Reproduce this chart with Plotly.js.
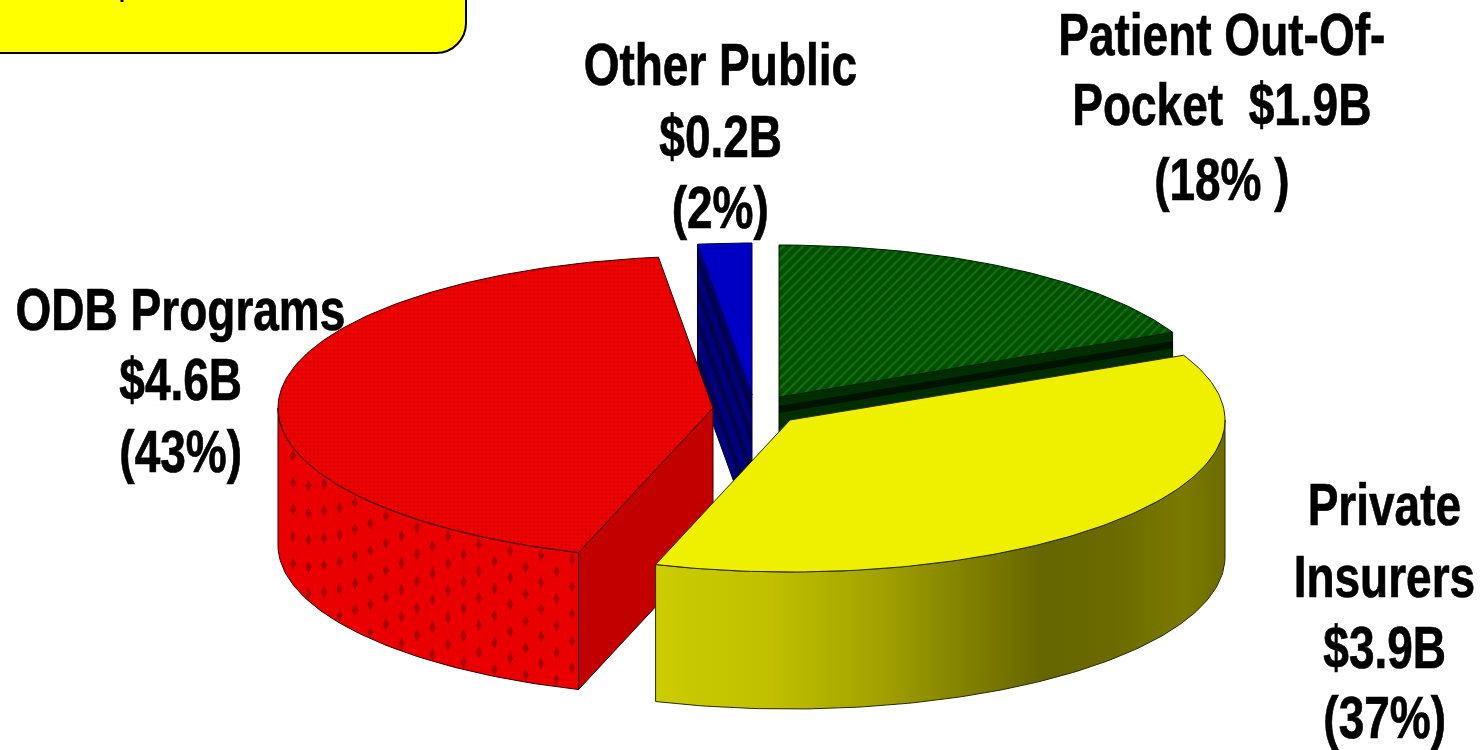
<!DOCTYPE html>
<html>
<head>
<meta charset="utf-8">
<script src="https://cdn.plot.ly/plotly-3.0.1.min.js"></script>
<style>html,body{margin:0;padding:0;background:#fff;overflow:hidden}#chart{width:1481px;height:750px}</style>
</head>
<body>
<div id="chart"></div>
<script>
// Drug spending by payer, share of total (percent), clockwise from twelve o'clock
const payers = ["Patient Out-Of-Pocket", "Private Insurers", "ODB Programs", "Other Public"];
const shares = [18, 37, 43, 2];
const labelLines = [
  ["Patient Out-Of-", "Pocket  $1.9B", "(18% )"],
  ["Private", "Insurers", "$3.9B", "(37%)"],
  ["ODB Programs", "$4.6B", "(43%)"],
  ["Other Public", "$0.2B", "(2%)"]
];

// Projection of the tilted disc, and where each exploded wedge has its centre
const RX = 435, RY = 152, DEPTH = 137;
const apexes = [[779, 397], [790, 420], [713, 408], [752, 395]];
const labelAnchors = [[1222, [35, 105, 180]], [1384, [505, 577, 648, 718]], [180, [310, 380, 452]], [720, [65, 137, 208]]];
const LABEL_SQUEEZE = 0.78;

// Wedge angles in degrees, running clockwise from the top
const spans = [];
shares.reduce((start, s) => { const end = start - s * 3.6; spans.push([start, end]); return end; }, 90);

const rim = (i, deg, drop = 0) => {
  const t = deg * Math.PI / 180;
  return [apexes[i][0] + RX * Math.cos(t), apexes[i][1] - RY * Math.sin(t) + drop];
};
const arc = (i, from, to, drop = 0) => {
  const n = Math.max(2, Math.ceil(Math.abs(to - from)));
  return Array.from({length: n + 1}, (_, k) => rim(i, from + (to - from) * k / n, drop));
};
const apex = (i, drop = 0) => [apexes[i][0], apexes[i][1] + drop];

const poly = (pts, extra) => Object.assign({
  x: pts.map(p => p[0]).concat(pts[0][0]),
  y: pts.map(p => p[1]).concat(pts[0][1]),
  mode: "lines", fill: "toself", line: {color: "#1a1a00", width: 1}, hoverinfo: "skip", showlegend: false, fillcolor: "#000"
}, extra);
const band = (a, b, drop0, drop1, color) => poly([
  [a[0], a[1] + drop0], [b[0], b[1] + drop0], [b[0], b[1] + drop1], [a[0], a[1] + drop1]
], {fillcolor: color, line: {width: 0}});

const traces = [];

// Other Public: cut face with dark diagonal bands, then its top
{
  const i = 3, [s, e] = spans[i], outer = rim(i, s), c = apex(i);
  traces.push(band(outer, c, 0, DEPTH, "#00007c"));
  [[6, 22], [38, 52], [70, 84], [104, 118]].forEach(d => traces.push(band(outer, c, d[0], d[1], "#00004e")));
  traces.push(poly([outer, c, apex(i, DEPTH), rim(i, s, DEPTH)], {fill: "none", line: {color: "#000030", width: 1}}));
  traces.push(poly([c, ...arc(i, s, e)], {fillcolor: "#0000c4", line: {color: "#000040", width: 1}}));
}

// ODB Programs: outer wall, cut face, top
{
  const i = 2, [s, e] = spans[i];
  const wall = arc(i, -180, s).concat(arc(i, s, -180, DEPTH));
  traces.push(poly(wall, {fillcolor: "#ea0000", line: {color: "#300000", width: 1}}));

  // staggered diamond texture on the wall, kept between its top and bottom curves
  const dx = [], dy = [];
  const wallLeft = rim(i, -180)[0], wallRight = rim(i, s)[0];
  for (let col = 0; col < 22; col++) {
    const x = 293 + col * 15.5;
    if (x < wallLeft + 6 || x > wallRight - 2) continue;
    const u = (x - apexes[i][0]) / RX;
    const topEdge = apexes[i][1] + RY * Math.sqrt(Math.max(0, 1 - u * u));
    for (let row = 0; row < 12; row++) {
      const y = topEdge + (col % 2 ? 22 : 8) + row * 27;
      if (y < topEdge + DEPTH - 5) { dx.push(x); dy.push(y); }
    }
  }
  traces.push({x: dx, y: dy, mode: "markers", hoverinfo: "skip", showlegend: false,
    marker: {symbol: "diamond-tall", size: 9, color: "#ac0000", line: {width: 0}}});

  traces.push(poly([apex(i), rim(i, s), rim(i, s, DEPTH), apex(i, DEPTH)], {fillcolor: "#c20000", line: {color: "#300000", width: 1}}));
  traces.push(poly([apex(i), ...arc(i, s, e)], {
    fillcolor: "#f00000", line: {color: "#300000", width: 1},
    fillpattern: {shape: ".", bgcolor: "#f40000", fgcolor: "#d40000", size: 4, solidity: 0.4}
  }));
}

// Patient Out-Of-Pocket: cut face with a darker seam, then its hatched top
{
  const i = 0, [s, e] = spans[i], outer = rim(i, e), c = apex(i);
  traces.push(poly([outer, c, apex(i, DEPTH), rim(i, e, DEPTH)], {fillcolor: "#002e00", line: {color: "#001000", width: 1}}));
  traces.push(band(outer, c, 9, 16, "#001200"));
  traces.push(poly([c, ...arc(i, e, s)], {
    fillcolor: "#005400", line: {color: "#002000", width: 1},
    fillpattern: {shape: "/", bgcolor: "#004f00", fgcolor: "#127012", size: 7, solidity: 0.3}
  }));
}

// Private Insurers: shaded outer wall, then its top
{
  const i = 1, [s, e] = spans[i];
  const wall = arc(i, 0, e).concat(arc(i, e, 0, DEPTH));
  traces.push(poly(wall, {
    line: {color: "#2a2a00", width: 1},
    fillgradient: {type: "horizontal", colorscale: [
      [0, "#cccc00"], [0.2, "#c0c000"], [0.4, "#a0a000"], [0.55, "#808000"], [0.68, "#666600"], [0.8, "#6a6a00"], [0.93, "#7a7a00"], [1, "#6c6c00"]
    ]}
  }));
  traces.push(poly([apex(i), ...arc(i, s, e)], {fillcolor: "#efef00", line: {color: "#2a2a00", width: 1}}));
}

// One annotation per printed line so each sits on its own baseline
const annotations = [];
labelLines.forEach((lines, i) => lines.forEach((text, k) => annotations.push({
  x: labelAnchors[i][0], y: labelAnchors[i][1][k], xref: "x", yref: "y", text: text.replace(/  /g, "&nbsp;&nbsp;"),
  showarrow: false, xanchor: "center", yanchor: "middle",
  font: {family: "'Liberation Sans', Arial, sans-serif", size: 59, color: "#000", weight: 700}
})));

const layout = {
  width: 1481, height: 750, margin: {l: 0, r: 0, t: 0, b: 0},
  paper_bgcolor: "#fff", plot_bgcolor: "#fff", showlegend: false,
  xaxis: {range: [0, 1481], visible: false, fixedrange: true},
  yaxis: {range: [750, 0], visible: false, fixedrange: true},
  annotations,
  shapes: [
    // Note box running off the top-left corner
    {type: "path", xref: "x", yref: "y", layer: "below",
     path: "M -10 -20 L 466 -20 L 466 23 C 466 39.5 452.5 53 436 53 L -10 53 Z",
     fillcolor: "#ffff00", line: {color: "#000", width: 2}},
    {type: "line", xref: "x", yref: "y", x0: 122, x1: 122, y0: 0, y1: 2, line: {color: "#000", width: 3}}
  ]
};

Plotly.newPlot("chart", traces, layout, {displayModeBar: false, staticPlot: true}).then(gd => {
  // The heavy condensed lettering is the bold face squeezed sideways about its centre
  gd.querySelectorAll(".annotation-text").forEach(t => {
    const cx = parseFloat(t.getAttribute("x")) || 0;
    t.setAttribute("transform", `translate(${cx} 0) scale(${LABEL_SQUEEZE} 1) translate(${-cx} 0)`);
    t.style.stroke = "#000";
    t.style.strokeWidth = "0.7px";
  });
});
</script>
</body>
</html>
